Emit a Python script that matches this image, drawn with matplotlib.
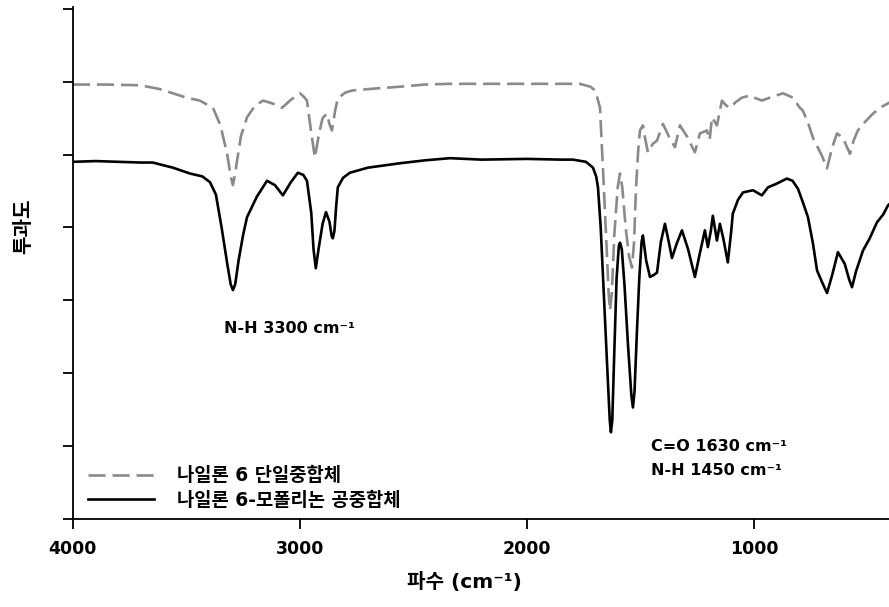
import matplotlib
matplotlib.use("Agg")
import matplotlib.pyplot as plt

plt.rcParams['font.family'] = ['DejaVu Sans', 'Noto Sans CJK KR']
plt.rcParams['lines.solid_joinstyle'] = 'round'
plt.rcParams['lines.dash_joinstyle'] = 'round'

# Nylon 6 homopolymer (wavenumber cm^-1, transmittance, arbitrary units)
homo_wn = [4000, 3850, 3705, 3620, 3559, 3500, 3441, 3383, 3350, 3320, 3305, 3295,
           3285, 3260, 3233, 3200, 3163, 3120, 3079, 3040, 3000, 2985, 2969, 2950,
           2934, 2915, 2900, 2881, 2870, 2859, 2845, 2833, 2800, 2767, 2650, 2560,
           2450, 2339, 2200, 2000, 1850, 1767, 1720, 1700, 1690, 1678, 1665, 1650,
           1640, 1634, 1626, 1615, 1600, 1590, 1580, 1565, 1550, 1537, 1528, 1520,
           1510, 1502, 1489, 1478, 1467, 1445, 1427, 1401, 1375, 1348, 1326, 1295,
           1260, 1238, 1207, 1195, 1185, 1163, 1141, 1125, 1106, 1080, 1053, 1018,
           990, 965, 930, 872, 828, 800, 784, 760, 740, 700, 678, 655, 634, 608,
           590, 577, 560, 542, 510, 476, 440, 410, 400]
homo_t = [5.96, 5.96, 5.95, 5.90, 5.84, 5.78, 5.74, 5.64, 5.40, 5.00, 4.70, 4.58,
          4.75, 5.25, 5.51, 5.66, 5.74, 5.70, 5.64, 5.75, 5.84, 5.80, 5.74, 5.30,
          4.96, 5.30, 5.50, 5.56, 5.42, 5.33, 5.60, 5.77, 5.85, 5.88, 5.91, 5.93,
          5.96, 5.97, 5.97, 5.97, 5.97, 5.97, 5.93, 5.88, 5.78, 5.64, 4.80, 3.80,
          3.10, 2.86, 3.10, 3.90, 4.55, 4.74, 4.55, 4.00, 3.60, 3.45, 3.80, 4.50,
          5.05, 5.33, 5.40, 5.20, 5.03, 5.15, 5.19, 5.42, 5.25, 5.10, 5.40, 5.25,
          5.03, 5.29, 5.33, 5.20, 5.51, 5.40, 5.74, 5.68, 5.64, 5.72, 5.78, 5.81,
          5.77, 5.74, 5.78, 5.84, 5.78, 5.65, 5.60, 5.42, 5.23, 4.98, 4.81, 5.10,
          5.29, 5.23, 5.10, 5.01, 5.20, 5.33, 5.45, 5.56, 5.65, 5.70, 5.72]

# Nylon 6 - morpholinone copolymer
copo_wn = [4000, 3900, 3800, 3700, 3648, 3560, 3485, 3430, 3396, 3370, 3345, 3320,
           3305, 3295, 3285, 3270, 3250, 3233, 3190, 3145, 3110, 3075, 3040, 3009,
           2985, 2969, 2950, 2940, 2930, 2918, 2900, 2885, 2870, 2860, 2855, 2848,
           2840, 2833, 2810, 2780, 2700, 2560, 2450, 2339, 2200, 2000, 1850, 1797,
           1740, 1709, 1695, 1687, 1675, 1660, 1645, 1635, 1630, 1624, 1615, 1605,
           1595, 1590, 1582, 1570, 1555, 1540, 1533, 1526, 1515, 1505, 1495, 1489,
           1475, 1458, 1440, 1427, 1410, 1392, 1375, 1361, 1340, 1317, 1290, 1260,
           1240, 1216, 1203, 1190, 1181, 1163, 1150, 1135, 1115, 1100, 1093, 1070,
           1048, 1004, 965, 938, 900, 855, 830, 806, 785, 762, 740, 722, 700, 678,
           655, 630, 600, 580, 568, 550, 520, 490, 458, 430, 410, 400]
copo_t = [4.90, 4.91, 4.90, 4.89, 4.89, 4.82, 4.74, 4.70, 4.62, 4.45, 4.00, 3.50,
          3.22, 3.14, 3.22, 3.55, 3.90, 4.14, 4.42, 4.64, 4.58, 4.44, 4.62, 4.75,
          4.72, 4.64, 4.20, 3.70, 3.44, 3.70, 4.05, 4.21, 4.08, 3.88, 3.85, 3.95,
          4.30, 4.55, 4.68, 4.75, 4.82, 4.88, 4.92, 4.95, 4.93, 4.94, 4.93, 4.93,
          4.90, 4.82, 4.70, 4.55, 4.00, 3.00, 2.00, 1.35, 1.19, 1.35, 2.30, 3.30,
          3.75, 3.79, 3.70, 3.20, 2.40, 1.70, 1.53, 1.75, 2.60, 3.30, 3.80, 3.89,
          3.55, 3.32, 3.35, 3.38, 3.80, 4.05, 3.80, 3.58, 3.78, 3.96, 3.70, 3.32,
          3.62, 3.96, 3.73, 3.95, 4.16, 3.82, 4.05, 3.85, 3.52, 3.95, 4.19, 4.38,
          4.48, 4.51, 4.44, 4.55, 4.60, 4.67, 4.64, 4.53, 4.35, 4.14, 3.78, 3.41,
          3.25, 3.10, 3.35, 3.66, 3.50, 3.28, 3.18, 3.40, 3.68, 3.85, 4.07, 4.18,
          4.30, 4.33]

series_labels = ['나일론 6 단일중합체', '나일론 6-모폴리논 공중합체']
x_ticks = [4000, 3000, 2000, 1000]
y_ticks = [0, 1, 2, 3, 4, 5, 6, 7]

fig = plt.figure(figsize=(8.89, 6.07), dpi=100)
ax = fig.add_axes([0.082, 0.145, 0.918, 0.843])

ax.plot(homo_wn, homo_t, color='#8a8a8a', lw=1.9, dashes=(6.5, 2.6),
        label=series_labels[0])
ax.plot(copo_wn, copo_t, color='black', lw=1.9, label=series_labels[1])

ax.set_xlim(4000, 405)
ax.set_ylim(0, 7.02)
ax.set_xticks(x_ticks)
ax.set_xticklabels([str(v) for v in x_ticks], fontsize=12.5, fontweight='bold')
ax.set_yticks(y_ticks)
ax.set_yticklabels([])
ax.tick_params(axis='both', direction='out', length=7, width=1.3)
ax.tick_params(axis='x', pad=8)

for s in ['top', 'right']:
    ax.spines[s].set_visible(False)
for s in ['left', 'bottom']:
    ax.spines[s].set_linewidth(1.3)

ax.set_xlabel('파수 (cm⁻¹)', fontsize=14.5, fontweight='bold')
ax.xaxis.set_label_coords(0.48, -0.103)
ax.set_ylabel('투과도', fontsize=14.5, fontweight='bold')
ax.yaxis.set_label_coords(-0.049, 0.572)

ann_kw = dict(fontsize=11.5, fontweight='bold', va='center', ha='left')
ax.text(3335, 2.62, 'N-H 3300 cm⁻¹', **ann_kw)
ax.text(1454, 0.99, 'C=O 1630 cm⁻¹', **ann_kw)
ax.text(1454, 0.67, 'N-H 1450 cm⁻¹', **ann_kw)

leg = ax.legend(loc='lower left', bbox_to_anchor=(0.003, -0.008), frameon=False,
                prop={'size': 13.5, 'weight': 'bold'}, handlelength=3.5,
                handletextpad=1.2, labelspacing=0.3, borderaxespad=0.3)

fig.savefig('out.png', dpi=100)
